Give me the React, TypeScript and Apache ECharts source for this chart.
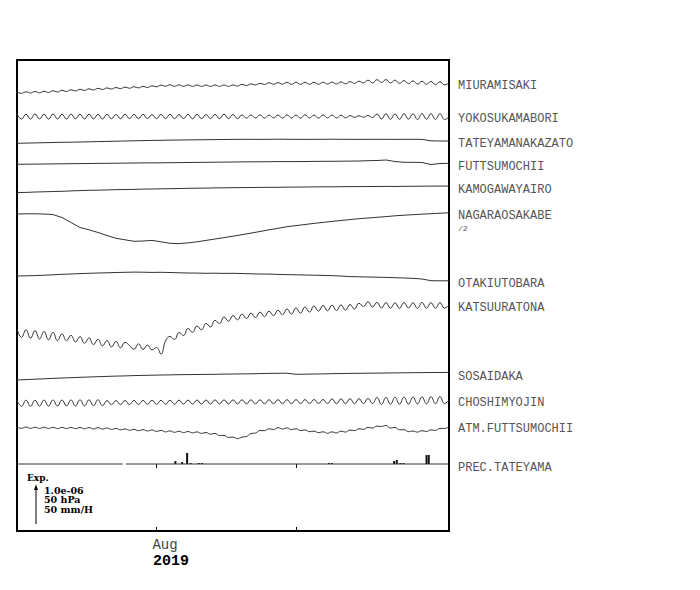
import React, { useEffect, useRef } from "react";
import * as echarts from "echarts";

// ---- time axis (days since 2019-07-01) ----
const timeSpanDays = 96;
const monthTickDays = [31, 62];
const monthLabelDays = [31];
const monthLabels = ["Aug"];
const yearLabel = "2019";

// ---- station traces (relative values, display units, positive = up) ----
// slow traces sampled every 2 days
const tateyamanakazato = [-2.3,-2.1,-1.9,-1.7,-1.5,-1.3,-1.2,-1.0,-0.8,-0.6,-0.4,-0.2,0.0,0.2,0.4,0.6,0.7,0.9,1.0,1.1,1.2,1.3,1.4,1.5,1.6,1.7,1.7,1.6,1.7,1.8,1.7,1.7,1.6,1.7,1.7,1.8,1.7,1.7,1.6,1.7,1.7,1.7,1.6,1.7,1.7,1.6,0.2,0.0,0.0];
const futtsumochii = [-1.0,-0.9,-0.8,-0.7,-0.6,-0.5,-0.4,-0.3,-0.2,-0.1,0.0,0.1,0.2,0.3,0.4,0.4,0.5,0.6,0.7,0.8,0.9,1.0,1.1,1.2,1.3,1.4,1.5,1.5,1.6,1.7,1.7,1.7,1.8,1.9,2.0,2.0,2.1,2.2,2.3,2.6,2.8,3.3,1.8,1.0,1.0,0.8,-1.2,-0.2,0.0];
const kamogawayairo = [-6.5,-6.4,-6.0,-5.8,-5.5,-5.3,-4.9,-4.6,-4.3,-4.2,-3.9,-3.7,-3.5,-3.4,-3.1,-3.0,-2.8,-2.7,-2.5,-2.3,-2.2,-2.1,-1.9,-1.8,-1.7,-1.6,-1.5,-1.4,-1.3,-1.3,-1.1,-1.1,-1.0,-0.9,-0.8,-0.8,-0.7,-0.6,-0.6,-0.5,-0.5,-0.4,-0.5,-0.3,-0.3,-0.2,-0.1,-0.1,0.0];
const nagaraosakabe = [-1.0,-0.8,-0.8,-1.0,-1.6,-4.5,-9.5,-14.5,-16.8,-19.5,-22.5,-25.3,-26.8,-28.3,-28.0,-27.4,-28.8,-30.3,-30.6,-29.9,-28.8,-27.4,-26.0,-24.6,-23.2,-21.7,-20.1,-18.5,-16.8,-15.3,-13.7,-12.6,-11.5,-10.4,-9.4,-8.4,-7.5,-6.6,-5.7,-5.0,-4.3,-3.6,-2.8,-2.2,-1.7,-1.2,-0.7,-0.2,0.2];
const otakiutobara = [5.0,5.2,5.4,5.8,6.2,6.7,7.0,7.4,7.7,8.0,8.2,8.5,8.7,8.9,8.8,8.6,8.7,8.5,8.2,8.0,7.9,7.7,7.8,7.6,7.7,7.5,7.2,7.0,6.9,6.6,6.4,6.2,6.0,5.8,5.6,5.3,5.0,4.4,4.2,4.0,3.8,3.6,3.3,3.0,2.6,2.0,0.3,0.2,0.2];
const sosaidaka = [-7.5,-7.1,-6.7,-6.3,-5.9,-5.5,-5.2,-4.8,-4.5,-4.2,-3.9,-3.6,-3.4,-3.1,-2.9,-2.7,-2.5,-2.4,-2.2,-2.1,-2.0,-1.9,-1.8,-1.6,-1.5,-1.4,-1.3,-1.1,-0.9,-0.8,-0.7,-1.8,-1.7,-1.5,-1.4,-1.2,-1.0,-0.9,-0.8,-0.7,-0.6,-0.5,-0.4,-0.3,-0.2,-0.1,0.0,0.0,0.1];

// tidal traces sampled every day
const miuramisaki = [-8.5,-9.8,-8.3,-9.5,-8.0,-9.3,-7.7,-9.0,-7.3,-8.5,-6.8,-8.0,-6.3,-7.5,-5.8,-7.0,-5.3,-6.5,-4.8,-6.0,-4.4,-5.6,-4.0,-5.2,-3.6,-4.8,-3.2,-4.4,-2.8,-4.0,-2.3,-3.3,-1.6,-2.7,-1.3,-2.8,-1.4,-2.8,-1.5,-2.9,-1.5,-2.9,-1.5,-2.9,-1.5,-2.9,-1.5,-2.9,-1.5,-2.6,-0.9,-2.1,-0.4,-1.5,0.2,-1.0,0.7,-0.7,0.8,-0.6,1.2,-0.8,1.2,-0.8,1.2,-0.8,1.2,-0.8,1.3,-0.6,1.4,-0.5,1.6,-0.3,1.8,0.1,2.3,0.6,3.3,0.6,3.8,1.1,3.9,0.6,3.4,0.1,2.9,-0.2,2.6,-0.5,2.3,-0.8,2.1,-1.1,1.8,-1.4,0.5];
const yokosukamabori = [3.0,-2.0,2.8,-2.1,3.1,-1.9,2.9,-2.2,3.0,-2.0,2.7,-2.1,3.0,-1.8,2.8,-2.0,2.9,-1.9,2.6,-2.0,2.7,-1.7,2.5,-1.8,2.8,-1.6,2.6,-1.7,2.7,-1.5,2.4,-1.7,2.6,-1.6,2.8,-1.7,2.5,-1.5,2.6,-1.8,2.7,-1.6,2.4,-1.5,2.6,-1.7,2.8,-1.6,2.5,-1.7,2.1,-1.1,2.0,-1.0,2.2,-1.2,2.0,-0.9,1.9,-1.1,2.1,-1.0,2.0,-1.2,2.2,-1.0,1.9,-1.1,2.1,-0.9,2.0,-1.0,1.8,-0.8,1.3,-0.3,1.2,-0.2,1.5,-0.6,3.0,-2.0,3.3,-2.3,3.1,-2.4,3.4,-2.2,3.2,-2.5,3.5,-2.3,3.3,-2.4,3.4,-2.6,0.0];
const katsuuratona = [-24.0,-32.4,-24.8,-33.2,-25.6,-34.0,-26.4,-34.8,-27.2,-35.6,-29.0,-35.7,-30.3,-37.0,-31.6,-38.3,-32.9,-39.6,-34.2,-40.9,-35.5,-41.9,-36.4,-42.8,-37.3,-40.5,-44.2,-38.8,-44.5,-40.0,-45.0,-42.5,-49.0,-36.0,-31.5,-34.5,-27.5,-30.5,-23.5,-27.3,-21.0,-24.8,-18.5,-21.9,-15.3,-18.6,-12.0,-16.3,-10.5,-14.8,-9.0,-13.5,-8.1,-12.6,-7.1,-11.6,-6.1,-10.6,-5.2,-9.7,-3.9,-9.0,-2.9,-8.1,-2.0,-7.1,-1.0,-6.1,-0.4,-5.8,-0.1,-5.5,0.2,-5.2,0.5,-4.0,1.8,-1.5,3.3,-2.0,2.6,-3.0,2.4,-3.2,2.2,-3.3,2.5,-3.0,2.3,-3.4,2.6,-3.2,2.4,-3.3,2.5,-3.1,0.0];
const choshimyojin = [-0.3,-6.3,-0.2,-6.2,-0.2,-6.1,-0.1,-6.1,0.0,-6.0,0.0,-5.9,0.1,-5.9,0.2,-5.8,0.2,-5.7,0.3,-5.7,-0.6,-4.6,-0.6,-4.5,-0.5,-4.5,-0.4,-4.4,-0.4,-4.3,-0.3,-4.3,-0.3,-4.2,-0.2,-4.2,-0.1,-4.1,-0.1,-4.1,0.0,-4.0,0.0,-4.0,0.1,-3.9,0.1,-3.9,0.1,-3.8,0.2,-3.8,0.2,-3.8,0.2,-3.8,0.3,-3.7,0.3,-3.7,0.3,-3.7,0.4,-3.6,0.4,-3.6,0.5,-3.5,0.5,-3.5,1.2,-3.8,1.2,-3.7,1.3,-3.7,1.4,-3.6,1.5,-3.5,2.5,-4.4,2.6,-4.3,2.8,-4.2,2.9,-4.1,3.0,-3.9,3.1,-3.8,3.3,-3.7,3.4,-3.6,0.0];
const atmFuttsumochii = [-0.6,-1.8,-0.6,-1.9,-0.7,-1.9,-0.7,-2.0,-0.8,-2.1,-0.9,-2.1,-0.9,-2.2,-1.0,-2.3,-1.1,-2.4,-1.2,-2.6,-1.5,-2.9,-1.9,-3.3,-2.4,-3.8,-2.9,-4.2,-3.2,-4.5,-3.4,-4.9,-3.9,-5.4,-4.4,-5.8,-4.7,-6.1,-5.0,-6.4,-5.4,-6.9,-6.0,-7.7,-6.9,-9.1,-8.9,-10.9,-10.6,-12.2,-10.6,-10.0,-7.0,-6.6,-4.0,-4.2,-2.3,-3.0,-1.2,-2.5,-1.4,-3.1,-2.3,-4.1,-3.5,-5.2,-4.6,-6.2,-5.3,-6.8,-5.4,-6.4,-4.6,-5.6,-3.6,-4.2,-2.3,-2.8,-0.9,-1.6,0.4,0.0,1.1,-1.6,-0.9,-3.3,-3.2,-5.1,-4.6,-5.6,-4.2,-5.0,-3.4,-3.9,-1.9,-2.0,0.0];

// ---- precipitation, TATEYAMA (mm/H) ----
const precipDays = [35.2, 36.7, 37.8, 38.6, 40.4, 41.1, 69.3, 70.0, 83.8, 84.4, 85.2, 85.9, 91.0, 91.5];
const precipRate = [3.8, 2.6, 14.1, 1.3, 1.3, 1.3, 1.3, 1.3, 3.8, 5.1, 1.3, 1.3, 11.5, 11.5];
const precipBaselineDays = [0, 23.5, 23.8, 24.2, 96];
const precipBaselineVals: (number | string)[] = [0, 0, "-", 0, 0];

// scale bar values
const scaleLabels = ["1.0e-06", "50 hPa", "50 mm/H"];

// ---- layout (not data) ----
const PLOT_H = 471;
const PREC_LEVEL = 67; // display units above plot bottom
const SCALE_UNITS = 39; // display units for one scale bar
const PREC_PER_BAR = 50; // mm/H per scale bar

type Trace = { name: string; values: number[]; step: number; level: number; smooth: boolean; dy: number; rich?: boolean };
const traces: Trace[] = [
  { name: "MIURAMISAKI", values: miuramisaki, step: 1, level: 447.5, smooth: true, dy: 3 },
  { name: "YOKOSUKAMABORI", values: yokosukamabori, step: 1, level: 414, smooth: true, dy: 2 },
  { name: "TATEYAMANAKAZATO", values: tateyamanakazato, step: 2, level: 390, smooth: false, dy: 3 },
  { name: "FUTTSUMOCHII", values: futtsumochii, step: 2, level: 367.7, smooth: false, dy: 3.5 },
  { name: "KAMOGAWAYAIRO", values: kamogawayairo, step: 2, level: 345, smooth: false, dy: 4 },
  { name: "NAGARAOSAKABE", values: nagaraosakabe, step: 2, level: 318, smooth: false, dy: 8.5, rich: true },
  { name: "OTAKIUTOBARA", values: otakiutobara, step: 2, level: 250, smooth: false, dy: 3 },
  { name: "KATSUURATONA", values: katsuuratona, step: 1, level: 226, smooth: true, dy: 3 },
  { name: "SOSAIDAKA", values: sosaidaka, step: 2, level: 158.5, smooth: false, dy: 4.5 },
  { name: "CHOSHIMYOJIN", values: choshimyojin, step: 1, level: 131, smooth: true, dy: 3 },
  { name: "ATM.FUTTSUMOCHII", values: atmFuttsumochii, step: 1, level: 104.5, smooth: true, dy: 2.5 },
];

const LABEL_FONT = "Liberation Mono";
const LABEL_COLOR = "#555";

export default function App() {
  const ref = useRef<HTMLDivElement>(null);
  useEffect(() => {
    if (!ref.current) return;
    const chart = echarts.init(ref.current, null, { renderer: "svg" });
    const precMin = (-PREC_LEVEL * PREC_PER_BAR) / SCALE_UNITS;
    const precMax = ((PLOT_H - PREC_LEVEL) * PREC_PER_BAR) / SCALE_UNITS;

    const labelBase = {
      show: true,
      distance: 9,
      color: LABEL_COLOR,
      fontFamily: LABEL_FONT,
      fontSize: 12,
    };

    const traceSeries = traces.map((t) => ({
      type: "line",
      name: t.name,
      data: t.values.map((v, i) => [i * t.step, v + t.level]),
      showSymbol: false,
      symbol: "none",
      smooth: t.smooth ? 0.45 : false,
      silent: true,
      lineStyle: { color: "#333", width: 1 },
      endLabel: {
        ...labelBase,
        offset: [0, t.dy],
        formatter: t.rich ? () => "{n|" + t.name + "}\n{s|/2}" : "{a}",
        rich: t.rich
          ? {
              n: { fontFamily: LABEL_FONT, fontSize: 12, color: LABEL_COLOR, lineHeight: 14 },
              s: { fontFamily: LABEL_FONT, fontSize: 8, color: LABEL_COLOR, lineHeight: 10 },
            }
          : undefined,
      },
    }));

    const option: any = {
      animation: false,
      grid: {
        left: 17,
        top: 60,
        width: 432,
        height: PLOT_H,
        show: true,
        borderColor: "#000",
        borderWidth: 2,
        backgroundColor: "transparent",
        containLabel: false,
      },
      xAxis: [
        {
          type: "value",
          min: 0,
          max: timeSpanDays,
          position: "bottom",
          axisLine: { show: false },
          splitLine: { show: false },
          axisTick: {
            show: true,
            inside: true,
            length: 4,
            customValues: monthTickDays,
            lineStyle: { color: "#000", width: 1 },
          },
          axisLabel: {
            show: true,
            customValues: monthLabelDays,
            formatter: (v: number) => {
              const i = monthLabelDays.indexOf(v);
              return i >= 0 ? monthLabels[i] : "";
            },
            margin: 7,
            fontFamily: LABEL_FONT,
            fontSize: 14,
            color: "#444",
            align: "center",
            padding: [0, 0, 0, 17],
          },
        },
        {
          type: "value",
          min: 0,
          max: timeSpanDays,
          position: "top",
          axisLine: { show: false },
          splitLine: { show: false },
          axisTick: {
            show: true,
            inside: true,
            length: 4,
            customValues: monthTickDays,
            lineStyle: { color: "#000", width: 1 },
          },
          axisLabel: { show: false },
        },
      ],
      yAxis: [
        { type: "value", min: 0, max: PLOT_H, show: false, splitLine: { show: false } },
        { type: "value", min: precMin, max: precMax, show: false, splitLine: { show: false } },
      ],
      series: [
        ...traceSeries,
        {
          type: "line",
          name: "PREC.TATEYAMA",
          yAxisIndex: 1,
          data: precipBaselineDays.map((d, i) => [d, precipBaselineVals[i]]),
          showSymbol: false,
          symbol: "none",
          silent: true,
          lineStyle: { color: "#333", width: 1 },
          endLabel: { ...labelBase, offset: [0, 4], formatter: "{a}" },
        },
        {
          type: "bar",
          name: "precip",
          yAxisIndex: 1,
          data: precipDays.map((d, i) => [d, precipRate[i]]),
          barWidth: 2,
          silent: true,
          itemStyle: { color: "#111" },
        },
      ],
      graphic: [
        {
          type: "text",
          x: 27,
          y: 478,
          style: { text: "Exp.", font: 'bold 9px "DejaVu Serif"', fill: "#000", verticalAlign: "middle" },
        },
        {
          type: "line",
          shape: { x1: 36, y1: 524, x2: 36, y2: 488 },
          style: { stroke: "#000", lineWidth: 1 },
        },
        {
          type: "polygon",
          shape: { points: [[34, 490], [36, 484.5], [38, 490]] },
          style: { fill: "#000" },
        },
        ...scaleLabels.map((s, i) => ({
          type: "text",
          x: 44,
          y: 490 + i * 9.5,
          style: { text: s, font: 'bold 9.5px "DejaVu Serif"', fill: "#000", verticalAlign: "middle" },
        })),
        {
          type: "text",
          x: 153,
          y: 561,
          style: { text: yearLabel, font: 'bold 15px "Liberation Mono"', fill: "#000", verticalAlign: "middle" },
        },
      ],
    };
    chart.setOption(option);
    return () => chart.dispose();
  }, []);
  return (
    <div
      ref={ref}
      style={{ position: "fixed", left: 0, top: 0, width: 700, height: 590, background: "#fff" }}
    />
  );
}
